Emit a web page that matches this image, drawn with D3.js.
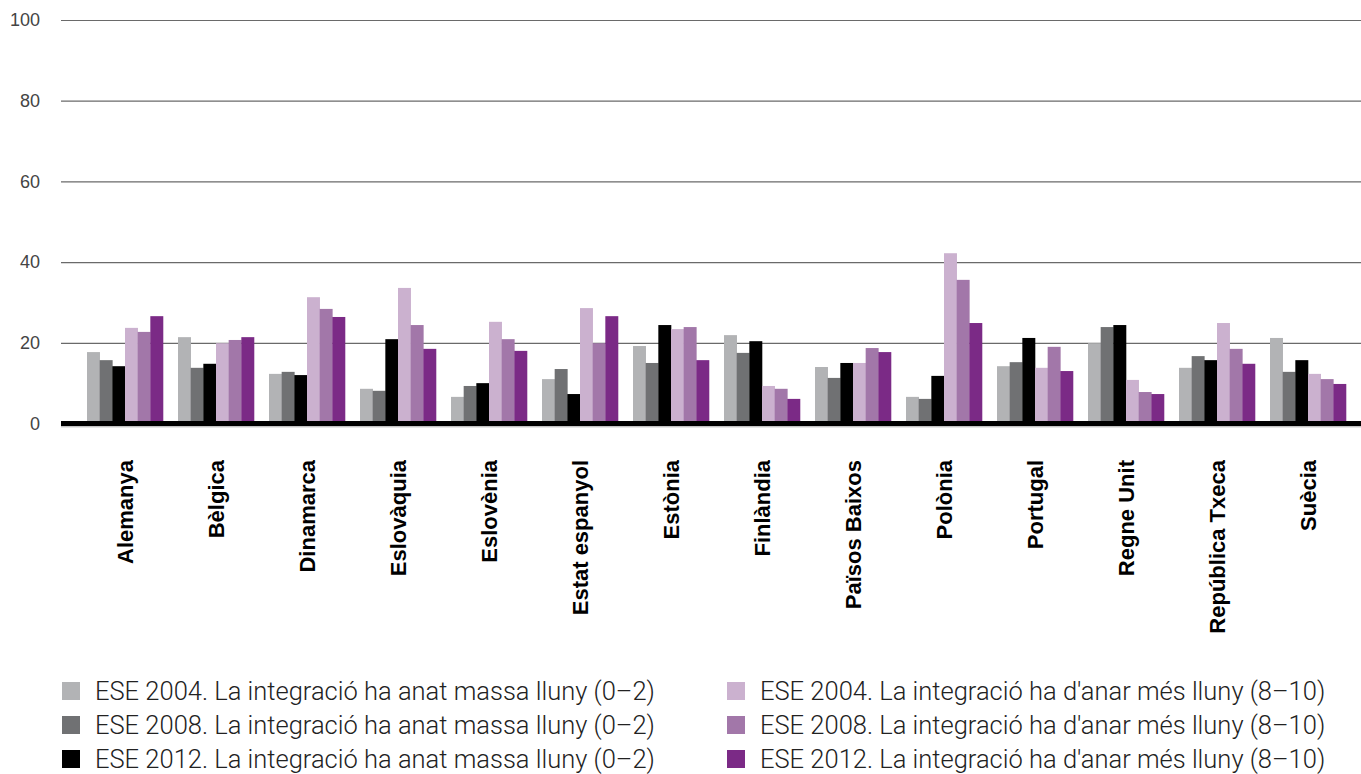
<!DOCTYPE html>
<html>
<head>
<meta charset="utf-8">
<script src="https://cdn.jsdelivr.net/npm/d3@7"></script>
<style>
  body { margin: 0; background: #fff; }
  svg { display: block; }
</style>
</head>
<body>
<div id="holder"></div>
<script>
const w = 1361;
const h = 774;

// DATA
const countries = ["Alemanya", "Bèlgica", "Dinamarca", "Eslovàquia", "Eslovènia", "Estat espanyol",
  "Estònia", "Finlàndia", "Països Baixos", "Polònia", "Portugal", "Regne Unit", "República Txeca", "Suècia"];

const seriesNames = [
  "ESE 2004. La integració ha anat massa lluny (0–2)",
  "ESE 2008. La integració ha anat massa lluny (0–2)",
  "ESE 2012. La integració ha anat massa lluny (0–2)",
  "ESE 2004. La integració ha d'anar més lluny (8–10)",
  "ESE 2008. La integració ha d'anar més lluny (8–10)",
  "ESE 2012. La integració ha d'anar més lluny (8–10)"
];

const massa2004 = [17.7, 21.4, 12.3, 8.6, 6.6, 11.0, 19.2, 21.9, 14.0, 6.6, 14.2, 19.9, 13.8, 21.2];
const massa2008 = [15.7, 13.8, 12.8, 8.1, 9.3, 13.5, 15.0, 17.5, 11.3, 6.1, 15.2, 23.9, 16.7, 12.8];
const massa2012 = [14.2, 14.8, 12.0, 20.9, 10.0, 7.3, 24.4, 20.4, 15.0, 11.8, 21.2, 24.4, 15.7, 15.7];
const mes2004 = [23.7, 19.9, 31.3, 33.6, 25.2, 28.6, 23.4, 9.3, 15.0, 42.2, 13.8, 10.8, 24.9, 12.3];
const mes2008 = [22.7, 20.7, 28.4, 24.4, 20.9, 19.9, 23.9, 8.6, 18.7, 35.6, 19.0, 7.8, 18.5, 11.0];
const mes2012 = [26.6, 21.4, 26.4, 18.5, 18.0, 26.6, 15.7, 6.1, 17.7, 24.9, 13.0, 7.3, 14.8, 9.8];

const yTicks = [0, 20, 40, 60, 80, 100];

const series = [massa2004, massa2008, massa2012, mes2004, mes2008, mes2012];
const colors = ["#b2b3b5", "#707173", "#000000", "#cbb1cf", "#a277a9", "#7b2a86"];

// CREATE SVG
const svg = d3.select("#holder")
  .append("svg")
  .attr("width", w)
  .attr("height", h)
  .style("font-family", "Roboto, 'Liberation Sans', sans-serif");

// SCALES
const yScale = d3.scaleLinear()
  .domain([0, 100])
  .range([423.5, 20]);

const xScale = d3.scaleBand()
  .domain(countries)
  .range([79.5, 1353.5])
  .paddingInner(0.165)
  .paddingOuter(0.0825);

const xInner = d3.scaleBand()
  .domain(d3.range(series.length))
  .range([0, xScale.bandwidth()]);

// GRID + Y LABELS
const yAxis = d3.axisLeft(yScale)
  .tickValues(yTicks)
  .tickSize(-(w - 61));

const gy = svg.append("g")
  .attr("transform", "translate(61,0)")
  .call(yAxis);

gy.select(".domain").remove();
gy.selectAll(".tick line")
  .attr("stroke", "#6a6a6a")
  .attr("stroke-width", 1.2);
gy.selectAll(".tick text")
  .attr("fill", "#444")
  .attr("x", -21)
  .style("font-size", "18px")
  .style("font-weight", "300");

// BARS
const groups = svg.append("g")
  .selectAll("g")
  .data(countries)
  .join("g")
  .attr("transform", d => "translate(" + xScale(d) + ",0)");

groups.selectAll("rect")
  .data((d, i) => series.map((s, k) => ({ k: k, v: s[i] })))
  .join("rect")
  .attr("x", d => xInner(d.k))
  .attr("width", xInner.bandwidth() + 0.3)
  .attr("y", d => yScale(d.v))
  .attr("height", d => yScale(0) - yScale(d.v))
  .attr("fill", d => colors[d.k]);

// BASELINE
svg.append("line")
  .attr("x1", 61).attr("x2", w)
  .attr("y1", yScale(0) + 3.3).attr("y2", yScale(0) + 3.3)
  .attr("stroke", "#aaa")
  .attr("stroke-width", 1);
svg.append("line")
  .attr("x1", 61).attr("x2", w)
  .attr("y1", yScale(0)).attr("y2", yScale(0))
  .attr("stroke", "#000")
  .attr("stroke-width", 5);

// X LABELS
svg.append("g")
  .selectAll("text")
  .data(countries)
  .join("text")
  .attr("transform", d => "translate(" + (xScale(d) + xScale.bandwidth() / 2 + 8) + ",460) rotate(-90)")
  .attr("text-anchor", "end")
  .style("font-family", "'Liberation Sans', Arial, sans-serif")
  .style("font-weight", "bold")
  .style("font-size", "22px")
  .attr("fill", "#000")
  .text(d => d);

// LEGEND
const legend = svg.append("g")
  .selectAll("g")
  .data(seriesNames)
  .join("g")
  .attr("transform", (d, i) => "translate(" + (i < 3 ? 62 : 727) + "," + (682 + (i % 3) * 34) + ")");

legend.append("rect")
  .attr("width", 18)
  .attr("height", 18)
  .attr("fill", (d, i) => colors[i]);

legend.append("text")
  .attr("x", 33)
  .attr("y", 9)
  .attr("dy", "0.35em")
  .attr("fill", "#222")
  .style("font-size", "25.5px")
  .style("font-weight", "300")
  .text(d => d);
</script>
</body>
</html>
